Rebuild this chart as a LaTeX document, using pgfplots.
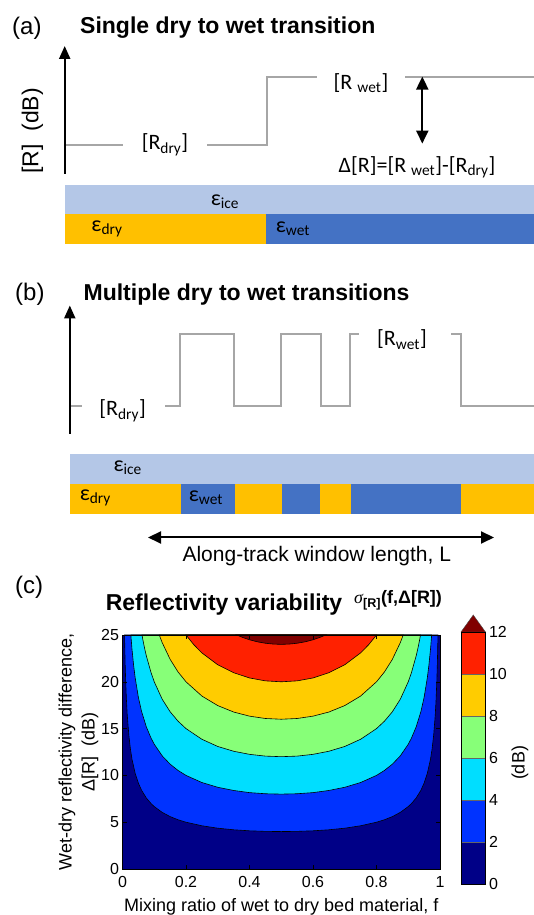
\documentclass[border=0pt]{standalone}
\usepackage{fontspec}
\setmainfont{Liberation Sans}
\newfontfamily\calibri{Carlito}
\newfontfamily\tnr{Liberation Serif}
\usepackage{pgfplots}
\pgfplotsset{compat=1.18}
\usepackage{pgfplotstable}
\usetikzlibrary{arrows.meta}

\definecolor{rgray}{HTML}{A6A6A6}
\definecolor{ice}{HTML}{B4C7E7}
\definecolor{dry}{HTML}{FFC000}
\definecolor{wet}{HTML}{4472C4}
\definecolor{c0}{rgb}{0,0,0.53}
\definecolor{c1}{rgb}{0,0.2,1}
\definecolor{c2}{rgb}{0,0.87,1}
\definecolor{c3}{rgb}{0.53,1,0.47}
\definecolor{c4}{rgb}{1,0.8,0}
\definecolor{c5}{rgb}{1,0.13,0}
\definecolor{c6}{rgb}{0.5,0,0}

% contour lines of sigma = 2,4,...,12 dB
\pgfplotstableread{
f d
0.00644 25.00
0.0075 23.18
0.0085 21.79
0.01 20.10
0.0125 18.00
0.015 16.45
0.02 14.29
0.025 12.81
0.03 11.72
0.04 10.21
0.05 9.18
0.06 8.42
0.075 7.59
0.09 6.99
0.1 6.67
0.125 6.05
0.15 5.60
0.175 5.26
0.2 5.00
0.25 4.62
0.3 4.36
0.35 4.19
0.4 4.08
0.45 4.02
0.5 4.00
0.55 4.02
0.6 4.08
0.65 4.19
0.7 4.36
0.75 4.62
0.8 5.00
0.825 5.26
0.85 5.60
0.875 6.05
0.9 6.67
0.91 6.99
0.925 7.59
0.94 8.42
0.95 9.18
0.96 10.21
0.97 11.72
0.975 12.81
0.98 14.29
0.985 16.45
0.9875 18.00
0.99 20.10
0.9915 21.79
0.9925 23.18
0.99356 25.00
}\ctwo
\pgfplotstableread{
f d
0.02629 25.00
0.03 23.45
0.035 21.77
0.04 20.41
0.05 18.35
0.06 16.84
0.075 15.19
0.09 13.98
0.1 13.33
0.125 12.09
0.15 11.20
0.175 10.53
0.2 10.00
0.25 9.24
0.3 8.73
0.35 8.39
0.4 8.16
0.45 8.04
0.5 8.00
0.55 8.04
0.6 8.16
0.65 8.39
0.7 8.73
0.75 9.24
0.8 10.00
0.825 10.53
0.85 11.20
0.875 12.09
0.9 13.33
0.91 13.98
0.925 15.19
0.94 16.84
0.95 18.35
0.96 20.41
0.965 21.77
0.97 23.45
0.97371 25.00
}\cfour
\pgfplotstableread{
f d
0.06137 25.00
0.065 24.34
0.07 23.52
0.075 22.78
0.09 20.97
0.1 20.00
0.125 18.14
0.15 16.80
0.175 15.79
0.2 15.00
0.25 13.86
0.3 13.09
0.35 12.58
0.4 12.25
0.45 12.06
0.5 12.00
0.55 12.06
0.6 12.25
0.65 12.58
0.7 13.09
0.75 13.86
0.8 15.00
0.825 15.79
0.85 16.80
0.875 18.14
0.9 20.00
0.91 20.97
0.925 22.78
0.93 23.52
0.935 24.34
0.93863 25.00
}\csix
\pgfplotstableread{
f d
0.11581 25.00
0.125 24.19
0.15 22.40
0.175 21.05
0.2 20.00
0.25 18.48
0.3 17.46
0.35 16.77
0.4 16.33
0.45 16.08
0.5 16.00
0.55 16.08
0.6 16.33
0.65 16.77
0.7 17.46
0.75 18.48
0.8 20.00
0.825 21.05
0.85 22.40
0.875 24.19
0.88419 25.00
}\ceight
\pgfplotstableread{
f d
0.2 25.00
0.225 23.95
0.25 23.09
0.3 21.82
0.35 20.97
0.4 20.41
0.45 20.10
0.5 20.00
0.55 20.10
0.6 20.41
0.65 20.97
0.7 21.82
0.75 23.09
0.775 23.95
0.8 25.00
}\cten
\pgfplotstableread{
f d
0.36 25.00
0.38 24.72
0.4 24.49
0.425 24.27
0.45 24.12
0.475 24.03
0.5 24.00
0.525 24.03
0.55 24.12
0.575 24.27
0.6 24.49
0.62 24.72
0.64 25.00
}\ctwelve

\newcommand{\calfont}{\calibri\fontsize{22}{26}\selectfont}

\begin{document}
\begin{tikzpicture}
\path[use as bounding box] (0,0) rectangle (534pt,915pt);
% ---------------- panels (a) and (b), pixel coordinates ----------------
\begin{axis}[at={(0pt,0pt)}, anchor=south west, scale only axis,
  width=534pt, height=915pt, xmin=0, xmax=534, ymin=-915, ymax=0,
  hide axis, clip=false]
% (a) bars
\addplot[fill=ice, draw=none] coordinates {(64.7,-185)(534,-185)(534,-214.5)(64.7,-214.5)} -- cycle;
\addplot[fill=dry, draw=none] coordinates {(64.7,-214.5)(265.7,-214.5)(265.7,-244)(64.7,-244)} -- cycle;
\addplot[fill=wet, draw=none] coordinates {(265.7,-214.5)(534,-214.5)(534,-244)(265.7,-244)} -- cycle;
% (a) step line
\addplot[rgray, line width=2pt] coordinates {(64.7,-145)(122.6,-145)};
\addplot[rgray, line width=2pt] coordinates {(207,-145)(267.4,-145)(267.4,-76.6)(316.8,-76.6)};
\addplot[rgray, line width=2pt] coordinates {(405,-76.6)(534,-76.6)};
% (a) arrows
\addplot[black, line width=2.2pt, -{Triangle[length=13pt,width=11pt]}] coordinates {(64.7,-173.6)(64.7,-46)};
\addplot[black, line width=2.2pt, {Triangle[length=13pt,width=12pt]}-{Triangle[length=13pt,width=12pt]}] coordinates {(422.3,-143.6)(422.3,-76.6)};
% (a) texts
\node[anchor=base west, inner sep=0pt, font=\fontsize{24}{28}\selectfont] at (12,-35) {(a)};
\node[anchor=base west, inner sep=0pt, font=\fontsize{23}{27}\selectfont\bfseries] at (80,-34) {Single dry to wet transition};
\node[rotate=90, font=\fontsize{23}{27}\selectfont] at (32.4,-131) {[R]\ \ (dB)};
\node[font=\calfont] at (165,-145) {[R\textsubscript{dry}]};
\node[font=\calfont] at (361,-83) {[R \textsubscript{wet}]};
\node[font=\calfont] at (417,-167.5) {Δ[R]=[R \textsubscript{wet}]-[R\textsubscript{dry}]};
\node[font=\calfont] at (225,-201.5) {ε\textsubscript{ice}};
\node[font=\calfont] at (107,-229) {ε\textsubscript{dry}};
\node[font=\calfont] at (293,-229) {ε\textsubscript{wet}};
% (b) bars
\addplot[fill=ice, draw=none] coordinates {(69.8,-454)(534,-454)(534,-483.7)(69.8,-483.7)} -- cycle;
\addplot[fill=dry, draw=none] coordinates {(69.8,-483.7)(180.5,-483.7)(180.5,-513.7)(69.8,-513.7)} -- cycle;
\addplot[fill=wet, draw=none] coordinates {(180.5,-483.7)(235,-483.7)(235,-513.7)(180.5,-513.7)} -- cycle;
\addplot[fill=dry, draw=none] coordinates {(235,-483.7)(282,-483.7)(282,-513.7)(235,-513.7)} -- cycle;
\addplot[fill=wet, draw=none] coordinates {(282,-483.7)(320,-483.7)(320,-513.7)(282,-513.7)} -- cycle;
\addplot[fill=dry, draw=none] coordinates {(320,-483.7)(350.8,-483.7)(350.8,-513.7)(320,-513.7)} -- cycle;
\addplot[fill=wet, draw=none] coordinates {(350.8,-483.7)(460.8,-483.7)(460.8,-513.7)(350.8,-513.7)} -- cycle;
\addplot[fill=dry, draw=none] coordinates {(460.8,-483.7)(534,-483.7)(534,-513.7)(460.8,-513.7)} -- cycle;
% (b) step line
\addplot[rgray, line width=2pt] coordinates {(69.8,-406)(81.7,-406)};
\addplot[rgray, line width=2pt] coordinates {(165,-406)(179.8,-406)(179.8,-334.5)(233.6,-334.5)(233.6,-406)(281.3,-406)(281.3,-334.5)(320.8,-334.5)(320.8,-406)(350,-406)(350,-334.5)(359.3,-334.5)};
\addplot[rgray, line width=2pt] coordinates {(451.3,-334.5)(460.5,-334.5)(460.5,-406)(534,-406)};
% (b) arrows
\addplot[black, line width=2.2pt, -{Triangle[length=13pt,width=11pt]}] coordinates {(69.8,-433.6)(69.8,-305.5)};
\addplot[black, line width=2pt, {Triangle[length=13pt,width=12pt]}-{Triangle[length=13pt,width=12pt]}] coordinates {(148,-537.5)(494,-537.5)};
% (b) texts
\node[anchor=base west, inner sep=0pt, font=\fontsize{24}{28}\selectfont] at (15,-300.5) {(b)};
\node[anchor=base west, inner sep=0pt, font=\fontsize{23}{27}\selectfont\bfseries] at (83.4,-301) {Multiple dry to wet transitions};
\node[font=\calfont] at (122.6,-411) {[R\textsubscript{dry}]};
\node[font=\calfont] at (402,-339.6) {[R\textsubscript{wet}]};
\node[font=\calfont] at (127.7,-467.7) {ε\textsubscript{ice}};
\node[font=\calfont] at (95.4,-498) {ε\textsubscript{dry}};
\node[font=\calfont] at (206,-498) {ε\textsubscript{wet}};
\node[font=\fontsize{21}{25}\selectfont] at (316.8,-556) {Along-track window length, L};
% (c) texts
\node[anchor=base west, inner sep=0pt, font=\fontsize{24}{28}\selectfont] at (15,-594) {(c)};
\node[anchor=base west, inner sep=0pt, font=\fontsize{23}{27}\selectfont\bfseries] at (105.6,-610.4) {Reflectivity variability};
\node[anchor=base west, inner sep=0pt, font=\fontsize{18}{20}\selectfont\bfseries] at (354,-604) {{\tnr\itshape\mdseries σ}\textsubscript{[R]}(f,Δ[R])};
\node[rotate=90, font=\fontsize{18}{21}\selectfont] at (520,-763) {(dB)};
\end{axis}
% ---------------- panel (c) contour map ----------------
\begin{axis}[at={(122.5pt,46pt)}, anchor=south west, scale only axis,
  width=317.5pt, height=234pt, xmin=0, xmax=1, ymin=0, ymax=25,
  axis on top, axis background/.style={fill=c0},
  xtick={0,0.2,0.4,0.6,0.8,1}, ytick={0,5,10,15,20,25},
  tick align=inside, major tick length=4pt,
  tick style={black, line width=0.5pt}, axis line style={black, line width=0.6pt},
  tick label style={font=\fontsize{16}{18}\selectfont},
  xticklabel style={yshift=-4pt},
  /pgf/number format/assume math mode=true,
  xlabel={Mixing ratio of wet to dry bed material, f},
  ylabel={Wet-dry reflectivity difference,\\Δ[R]\ \ (dB)},
  label style={font=\fontsize{18}{23}\selectfont},
  xlabel style={at={(axis description cs:0.5,0)}, anchor=center, yshift=-38pt},
  ylabel style={at={(axis description cs:-0.139,0.5)}, anchor=center, align=center}]
\addplot[fill=c1, draw=black, line width=0.6pt] table[x=f,y=d] {\ctwo} -- cycle;
\addplot[fill=c2, draw=black, line width=0.6pt] table[x=f,y=d] {\cfour} -- cycle;
\addplot[fill=c3, draw=black, line width=0.6pt] table[x=f,y=d] {\csix} -- cycle;
\addplot[fill=c4, draw=black, line width=0.6pt] table[x=f,y=d] {\ceight} -- cycle;
\addplot[fill=c5, draw=black, line width=0.6pt] table[x=f,y=d] {\cten} -- cycle;
\addplot[fill=c6, draw=black, line width=0.6pt] table[x=f,y=d] {\ctwelve} -- cycle;
\end{axis}
% ---------------- colour bar ----------------
\begin{axis}[at={(461pt,31pt)}, anchor=south west, scale only axis,
  width=24.5pt, height=252pt, xmin=0, xmax=1, ymin=0, ymax=12,
  clip=false, axis on top, xtick=\empty, ytick={0,2,4,6,8,10,12},
  ytick pos=right, yticklabel pos=right, major tick length=0pt,
  axis line style={black, line width=0.5pt},
  tick label style={font=\fontsize{16}{18}\selectfont},
  /pgf/number format/assume math mode=true]
\addplot[fill=c0, draw=black!60, line width=0.4pt] coordinates {(0,0)(1,0)(1,2)(0,2)} -- cycle;
\addplot[fill=c1, draw=black!60, line width=0.4pt] coordinates {(0,2)(1,2)(1,4)(0,4)} -- cycle;
\addplot[fill=c2, draw=black!60, line width=0.4pt] coordinates {(0,4)(1,4)(1,6)(0,6)} -- cycle;
\addplot[fill=c3, draw=black!60, line width=0.4pt] coordinates {(0,6)(1,6)(1,8)(0,8)} -- cycle;
\addplot[fill=c4, draw=black!60, line width=0.4pt] coordinates {(0,8)(1,8)(1,10)(0,10)} -- cycle;
\addplot[fill=c5, draw=black!60, line width=0.4pt] coordinates {(0,10)(1,10)(1,12)(0,12)} -- cycle;
\addplot[fill=c6, draw=black!70, line width=0.4pt] coordinates {(0,12)(0.5,12.81)(1,12)} -- cycle;
\end{axis}
\end{tikzpicture}
\end{document}
